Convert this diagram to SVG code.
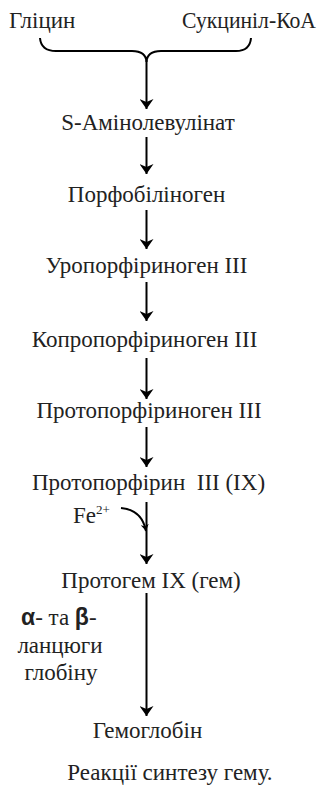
<svg xmlns="http://www.w3.org/2000/svg" width="326" height="786" viewBox="0 0 326 786">
<defs>
<marker id="ah" viewBox="0 0 10 14" refX="10" refY="7" markerWidth="10" markerHeight="14" markerUnits="userSpaceOnUse" orient="auto">
<path d="M0,0 L10,7 L0,14 L3,7 Z" fill="#000"/>
</marker>
<marker id="ahs" viewBox="0 0 10 12" refX="10" refY="6" markerWidth="7" markerHeight="8" markerUnits="userSpaceOnUse" orient="auto">
<path d="M0,0 L10,6 L0,12 L3,6 Z" fill="#000"/>
</marker>
</defs>
<style>
.t{font-family:'Liberation Serif','DejaVu Serif',serif;font-size:23px;fill:#222;}
.c{text-anchor:middle;}
.b{font-family:'Liberation Sans',sans-serif;font-weight:bold;font-size:23px;}
.con{stroke:#000;stroke-width:2;fill:none;}
</style>
<rect width="326" height="786" fill="#fff"/>
<g id="glycine"><text class="t" x="9" y="28">Гліцин</text></g>
<g id="succinyl"><text class="t" x="182" y="28" textLength="134" lengthAdjust="spacingAndGlyphs">Сукциніл-КоА</text></g>
<g id="ala"><text class="t c" x="148" y="130">S-Амінолевулінат</text></g>
<g id="pbg"><text class="t c" x="146.5" y="202">Порфобіліноген</text></g>
<g id="uro"><text class="t c" x="146.5" y="273">Уропорфіриноген III</text></g>
<g id="copro"><text class="t c" x="144.5" y="347">Копропорфіриноген III</text></g>
<g id="protogen"><text class="t c" x="149" y="418">Протопорфіриноген III</text></g>
<g id="proto"><text class="t c" x="148.5" y="490" xml:space="preserve">Протопорфірин  III (IX)</text></g>
<g id="fe"><text class="t" x="73" y="523" font-size="21">Fe<tspan font-size="13" dy="-9">2+</tspan></text></g>
<g id="heme"><text class="t c" x="151" y="588">Протогем IX (гем)</text></g>
<g id="globin">
<text class="t" x="21" y="625"><tspan class="b">α</tspan>- та <tspan class="b">β</tspan>-</text>
<text class="t c" x="60" y="653">ланцюги</text>
<text class="t c" x="61" y="680">глобіну</text>
</g>
<g id="hb"><text class="t c" x="147.5" y="738">Гемоглобін</text></g>
<g id="caption"><text class="t c" x="170" y="780">Реакції синтезу гему.</text></g>
<g id="connectors">
<path class="con" d="M40,38 Q41,51 56,51 L132,51 Q146,51 146.5,62 Q147,51 161,51 L236,51 Q250,51 251,38" stroke-width="1.6"/>
<line class="con" x1="146.5" y1="60" x2="146.5" y2="109" marker-end="url(#ah)"/>
<line class="con" x1="146.5" y1="137" x2="146.5" y2="174" marker-end="url(#ah)"/>
<line class="con" x1="146.5" y1="210" x2="146.5" y2="249" marker-end="url(#ah)"/>
<line class="con" x1="146.5" y1="282" x2="146.5" y2="321" marker-end="url(#ah)"/>
<line class="con" x1="146.5" y1="358" x2="146.5" y2="399" marker-end="url(#ah)"/>
<line class="con" x1="146.5" y1="427" x2="146.5" y2="467" marker-end="url(#ah)"/>
<line class="con" x1="146.5" y1="502" x2="146.5" y2="564" marker-end="url(#ah)"/>
<path class="con" d="M121,508 Q142,510 146,531" stroke-width="1.6" marker-end="url(#ahs)"/>
<line class="con" x1="146.5" y1="593" x2="146.5" y2="716" marker-end="url(#ah)"/>
</g>
</svg>
